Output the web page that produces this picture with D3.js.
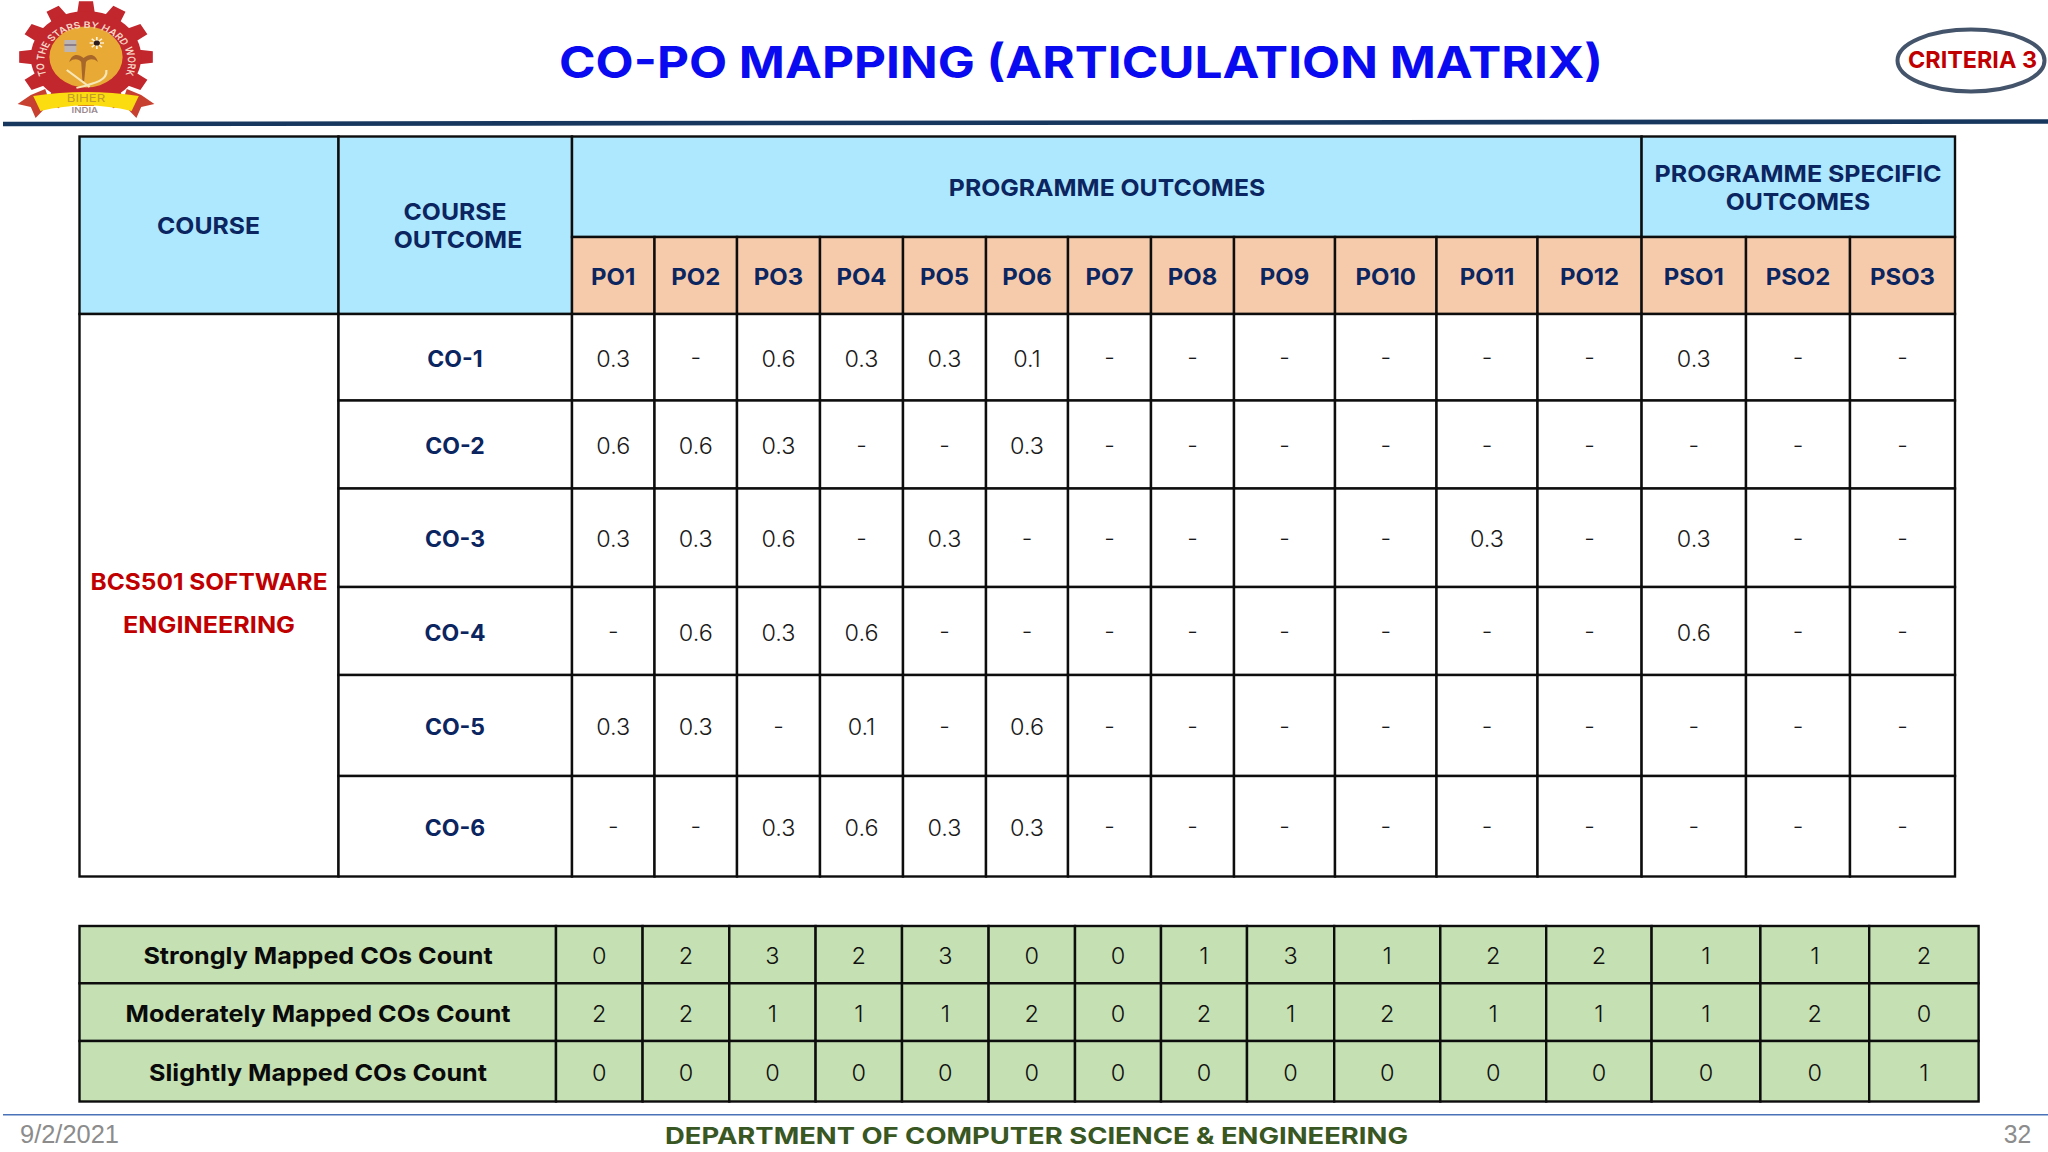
<!DOCTYPE html>
<html><head><meta charset="utf-8">
<script src="https://cdn.jsdelivr.net/npm/d3@7"></script>
<style>html,body{margin:0;padding:0;background:#fff;overflow:hidden}svg{display:block}</style>
</head><body><svg id="c" width="2048" height="1152"></svg>
<script>
// ---------- data ----------
const outcomeLabels = ["PO1","PO2","PO3","PO4","PO5","PO6","PO7","PO8","PO9","PO10","PO11","PO12","PSO1","PSO2","PSO3"];
const courseOutcomes = ["CO-1","CO-2","CO-3","CO-4","CO-5","CO-6"];
const co1 = ["0.3","-","0.6","0.3","0.3","0.1","-","-","-","-","-","-","0.3","-","-"];
const co2 = ["0.6","0.6","0.3","-","-","0.3","-","-","-","-","-","-","-","-","-"];
const co3 = ["0.3","0.3","0.6","-","0.3","-","-","-","-","-","0.3","-","0.3","-","-"];
const co4 = ["-","0.6","0.3","0.6","-","-","-","-","-","-","-","-","0.6","-","-"];
const co5 = ["0.3","0.3","-","0.1","-","0.6","-","-","-","-","-","-","-","-","-"];
const co6 = ["-","-","0.3","0.6","0.3","0.3","-","-","-","-","-","-","-","-","-"];
const countLabels = ["Strongly Mapped COs Count","Moderately Mapped COs Count","Slightly Mapped COs Count"];
const strongCounts   = [0,2,3,2,3,0,0,1,3,1,2,2,1,1,2];
const moderateCounts = [2,2,1,1,1,2,0,2,1,2,1,1,1,2,0];
const slightCounts   = [0,0,0,0,0,0,0,0,0,0,0,0,0,0,1];

const matrix = [co1,co2,co3,co4,co5,co6];
const counts = [strongCounts,moderateCounts,slightCounts];

// ---------- layout scales (index -> pixel edge) ----------
const piecewise = e => d3.scaleLinear().domain(d3.range(e.length)).range(e);
const xTop = piecewise([572,654.5,737,820,903,986,1068,1151,1234,1335,1436.5,1537.5,1641.6,1746,1850,1955]);
const yTop = piecewise([314,400.5,488.5,587,675,776,876.5]);
const xBot = piecewise([556,642.6,729.3,815.6,902,988.6,1075,1161,1247,1334.2,1440.3,1546.2,1651.6,1760.4,1869.2,1978.6]);
const yBot = piecewise([926,983.3,1041,1101.5]);

const svg = d3.select("#c");
const SANS = "Inter, 'Open Sans', sans-serif";
const styles = {
  title:{size:44.5,weight:700,fill:"#0a0af0",ref:"CO-PO MAPPING (ARTICULATION MATRIX)",w:1044},
  crit:{size:23.5,weight:700,fill:"#c00000",ref:"CRITERIA 3",w:129},
  head:{size:23.5,weight:700,fill:"#0b2560",ref:"COURSE",w:103},
  po:{size:23,weight:700,fill:"#0b2560",ref:"PO2",w:49},
  co:{size:22.5,weight:700,fill:"#0b2560",ref:"CO-4",w:61},
  course:{size:23,weight:700,fill:"#c00000",ref:"BCS501 SOFTWARE",w:237},
  val:{size:22.5,weight:300,fill:"#1a1a1a",ref:"0.3",w:34},
  cntL:{size:23.5,weight:700,fill:"#0a0a0a",ref:"Moderately Mapped COs Count",w:385},
  cntV:{size:22.5,weight:300,fill:"#111",ref:"0",w:14.5},
  dept:{size:22.5,weight:700,fill:"#385723",ref:"DEPARTMENT OF COMPUTER SCIENCE & ENGINEERING",w:743},
  date:{size:25,weight:400,fill:"#8c8c8c",ref:"9/2/2021",w:99,font:"'Liberation Sans',Arial,sans-serif"},
  page:{size:25,weight:400,fill:"#8c8c8c",ref:"32",w:27.5,font:"'Liberation Sans',Arial,sans-serif"}
};
// horizontal stretch per style so the substitute font keeps the original text widths
const probe = svg.append("text").attr("x",-9999).attr("y",-9999);
for (const s of Object.values(styles)) {
  probe.attr("font-family",s.font||SANS).attr("font-size",s.size).attr("font-weight",s.weight).text(s.ref);
  s.k = s.w / probe.node().getComputedTextLength();
}
probe.remove();
function label(g, style, text, x, y, width) {
  const s = styles[style];
  const t = g.append("text").attr("x",x).attr("y",y).attr("text-anchor","middle")
    .attr("font-family",s.font||SANS).attr("font-size",s.size).attr("font-weight",s.weight)
    .attr("fill",s.fill).text(text);
  const L = t.node().getComputedTextLength();
  t.attr("textLength",width||L*s.k).attr("lengthAdjust","spacingAndGlyphs");
  return t;
}
const BLUE="#aee8fe", PEACH="#f6cbac", GREEN="#c5e0b3", INK="#0d0d0d", SW=2.4;
function cell(g,x0,y0,x1,y1,fill){
  g.append("rect").attr("x",x0).attr("y",y0).attr("width",x1-x0).attr("height",y1-y0)
   .attr("fill",fill).attr("stroke",INK).attr("stroke-width",SW);
}

// ---------- header ----------
const headG = svg.append("g");
headG.append("line").attr("x1",3).attr("y1",124).attr("x2",2048).attr("y2",121.5).attr("stroke","#17375e").attr("stroke-width",4.6);
label(headG,"title","CO-PO MAPPING (ARTICULATION MATRIX)",1081,78);
headG.append("ellipse").attr("cx",1971).attr("cy",60.5).attr("rx",73.5).attr("ry",31).attr("fill","#fff").attr("stroke","#44546a").attr("stroke-width",4);
label(headG,"crit","CRITERIA 3",1972.5,68);

// ---------- logo ----------
const logo = svg.append("g").attr("transform","translate(86,57) scale(1.2,1)");
const teeth = 12;
const gearPts = d3.range(teeth).flatMap(i=>{
  const a=i*2*Math.PI/teeth, w=2*Math.PI/teeth;
  return [[a-0.31*w,45],[a-0.2*w,56],[a+0.2*w,56],[a+0.31*w,45]];
});
logo.append("path").attr("d",d3.lineRadial().curve(d3.curveLinearClosed)(gearPts)).attr("fill","#c2272d");
logo.append("circle").attr("r",46).attr("fill","#c2272d");
logo.append("circle").attr("r",30.5).attr("fill","#e8a935");
logo.append("path").attr("id","ringPath").attr("d","M -31,22 A 35 35 0 1 1 31,22").attr("fill","none");
logo.append("text").attr("font-family",SANS).attr("font-size",8.8).attr("font-weight",600).attr("fill","#f6d6c6")
  .append("textPath").attr("href","#ringPath").attr("startOffset","50%").attr("text-anchor","middle").text("TO THE STARS BY HARD WORK");
logo.append("rect").attr("x",-18).attr("y",-17).attr("width",10).attr("height",12).attr("fill","#bdb4b4");
logo.append("rect").attr("x",-18).attr("y",-13).attr("width",10).attr("height",2).attr("fill","#8d7f8a");
const sunRays = d3.range(8).map(i=>i*Math.PI/4);
logo.append("g").attr("transform","translate(9,-14)").selectAll("line").data(sunRays).join("line")
  .attr("x2",d=>Math.cos(d)*6).attr("y2",d=>Math.sin(d)*6).attr("stroke","#fff3da").attr("stroke-width",1.4);
logo.append("circle").attr("cx",9).attr("cy",-14).attr("r",2.6).attr("fill","#2a1c1c");
logo.append("path").attr("d","M -14,5 C -12,-3 -7,-4 -2,1 C 3,-4 8,-3 10,5 C 6,1 2,2 0,5 L -1.5,24 L -3,24 L -4,5 C -6,2 -10,1 -14,5 Z").attr("fill","#a8672a");
logo.append("path").attr("d","M -16,13 L 3,30 M 17,13 C 18,23 9,26 -8,31").attr("stroke","#f6e7b8").attr("stroke-width",1.8).attr("fill","none");
logo.append("path").attr("d","M -46,38 L -34,32 L -30,46 L -42,61 L -46,50 L -57,47 Z M 46,38 L 34,32 L 30,46 L 42,61 L 46,50 L 57,47 Z").attr("fill","#c8402f");
logo.append("path").attr("d","M -44,39 Q 0,31 44,39 L 38,54 Q 0,43 -38,54 Z").attr("fill","#fbdc10");
logo.append("text").attr("y",45).attr("text-anchor","middle").attr("font-family",SANS).attr("font-size",11).attr("fill","#c29a2c").text("BIHER");
logo.append("rect").attr("x",-13).attr("y",49).attr("width",24).attr("height",9).attr("fill","#fff");
logo.append("text").attr("x",-1).attr("y",56.5).attr("text-anchor","middle").attr("font-family",SANS).attr("font-size",8).attr("font-weight",600).attr("fill","#9b8b90").text("INDIA");

// ---------- main table ----------
const mainG = svg.append("g");
cell(mainG,79.5,136.5,338.5,314,BLUE);
cell(mainG,338.5,136.5,572,314,BLUE);
cell(mainG,xTop(0),136.5,xTop(12),237,BLUE);
cell(mainG,xTop(12),136.5,xTop(15),237,BLUE);
outcomeLabels.forEach((lab,i)=>{
  cell(mainG,xTop(i),237,xTop(i+1),314,PEACH);
  label(mainG,"po",lab,(xTop(i)+xTop(i+1))/2,284.5);
});
label(mainG,"head","COURSE",208.5,234);
label(mainG,"head","COURSE",455,220);
label(mainG,"head","OUTCOME",458,248);
label(mainG,"head","PROGRAMME OUTCOMES",1107,196);
label(mainG,"head","PROGRAMME SPECIFIC",1798,181.5,287);
label(mainG,"head","OUTCOMES",1798,209.5);
cell(mainG,79.5,yTop(0),338.5,yTop(6),"#fff");
label(mainG,"course","BCS501 SOFTWARE",209,590);
label(mainG,"course","ENGINEERING",209,633,172);
courseOutcomes.forEach((co,r)=>{
  const cy=(yTop(r)+yTop(r+1))/2;
  cell(mainG,338.5,yTop(r),572,yTop(r+1),"#fff");
  label(mainG,"co",co,455,cy+9.5);
  matrix[r].forEach((v,c)=>{
    cell(mainG,xTop(c),yTop(r),xTop(c+1),yTop(r+1),"#fff");
    label(mainG,"val",v,(xTop(c)+xTop(c+1))/2,cy+ (v==="-"?8:9.5));
  });
});

// ---------- count table ----------
const botG = svg.append("g");
countLabels.forEach((lab,r)=>{
  const cy=(yBot(r)+yBot(r+1))/2;
  cell(botG,79.5,yBot(r),xBot(0),yBot(r+1),GREEN);
  label(botG,"cntL",lab,318,cy+9.5);
  counts[r].forEach((v,c)=>{
    cell(botG,xBot(c),yBot(r),xBot(c+1),yBot(r+1),GREEN);
    label(botG,"cntV",String(v),(xBot(c)+xBot(c+1))/2,cy+9.5);
  });
});

// ---------- footer ----------
const footG = svg.append("g");
footG.append("line").attr("x1",3).attr("y1",1114.7).attr("x2",2048).attr("y2",1114.7).attr("stroke","#4a72b8").attr("stroke-width",1.5);
label(footG,"date","9/2/2021",69.5,1143);
label(footG,"dept","DEPARTMENT OF COMPUTER SCIENCE & ENGINEERING",1036.5,1143.5);
label(footG,"page","32",2017.5,1143);
</script></body></html>
